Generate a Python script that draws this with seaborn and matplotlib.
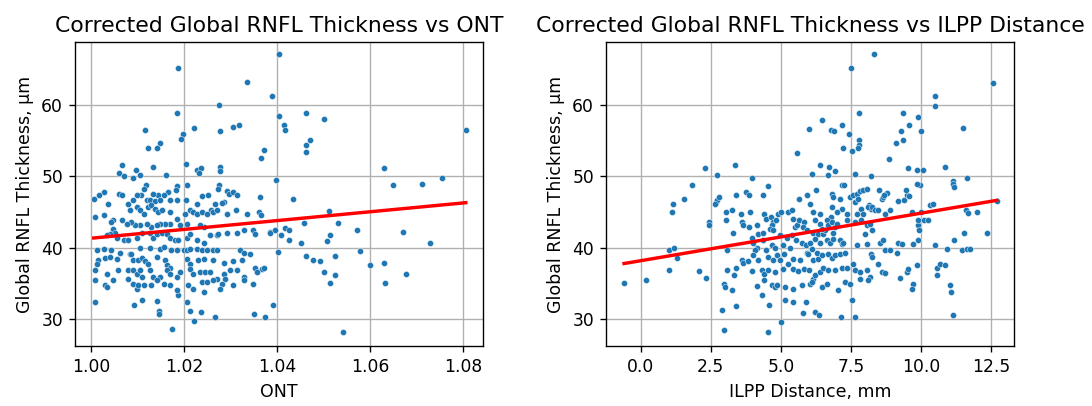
import matplotlib
matplotlib.use("Agg")
import matplotlib.pyplot as plt
import seaborn as sns
import numpy as np

# ---------------- data ----------------
ONT = [
    1.0188, 1.0335, 1.0389, 1.0404, 1.0275, 1.0184, 1.0117, 1.0221, 1.0278, 1.0306,
    1.0318, 1.0198, 1.0193, 1.0148, 1.0122, 1.0142, 1.0404, 1.0372, 1.0366, 1.0066,
    1.0060, 1.0071, 1.0097, 1.0105, 1.0090, 1.0133, 1.0161, 1.0205, 1.0227, 1.0236,
    1.0232, 1.0278, 1.0278, 1.0397, 1.0462, 1.0502, 1.0414, 1.0417, 1.0471, 1.0462,
    1.0462, 1.0806, 1.0630, 1.0754, 1.0434, 1.0649, 1.0712, 1.0511, 1.0457, 1.0531,
    1.0385, 1.0396, 1.0417, 1.0426, 1.0409, 1.0426, 1.0451, 1.0514, 1.0508, 1.0573,
    1.0672, 1.0730, 1.0403, 1.0462, 1.0477, 1.0493, 1.0525, 1.0578, 1.0601, 1.0630,
    1.0502, 1.0525, 1.0513, 1.0632, 1.0678, 1.0391, 1.0541, 1.0008, 1.0093, 1.0109,
    1.0142, 1.0146, 1.0146, 1.0175, 1.0212, 1.0221, 1.0237, 1.0266, 1.0351, 1.0374,
    1.0188, 1.0206, 1.0206, 1.0276, 1.0274, 1.0118, 1.0113, 1.0186, 1.0183, 1.0166,
    1.0156, 1.0145, 1.0134, 1.0108, 1.0100, 1.0061, 1.0066, 1.0027, 1.0018, 1.0006,
    1.0037, 1.0080, 1.0091, 1.0120, 1.0127, 1.0138, 1.0148, 1.0170, 1.0186, 1.0204,
    1.0238, 1.0251, 1.0292, 1.0297, 1.0306, 1.0313, 1.0363, 1.0286, 1.0267, 1.0281,
    1.0259, 1.0227, 1.0009, 1.0029, 1.0048, 1.0066, 1.0084, 1.0098, 1.0105, 1.0113,
    1.0123, 1.0130, 1.0138, 1.0145, 1.0152, 1.0170, 1.0184, 1.0202, 1.0213, 1.0220,
    1.0227, 1.0238, 1.0249, 1.0263, 1.0270, 1.0292, 1.0312, 1.0335, 1.0361, 1.0365,
    1.0328, 1.0348, 1.0353, 1.0385, 1.0270, 1.0242, 1.0234, 1.0206, 1.0191, 1.0170,
    1.0159, 1.0148, 1.0141, 1.0130, 1.0120, 1.0105, 1.0095, 1.0087, 1.0077, 1.0044,
    1.0047, 1.0052, 1.0041, 1.0034, 1.0055, 1.0070, 1.0080, 1.0098, 1.0109, 1.0127,
    1.0134, 1.0141, 1.0152, 1.0163, 1.0170, 1.0181, 1.0188, 1.0206, 1.0213, 1.0227,
    1.0242, 1.0256, 1.0274, 1.0292, 1.0313, 1.0012, 1.0027, 1.0044, 1.0062, 1.0084,
    1.0105, 1.0127, 1.0148, 1.0156, 1.0173, 1.0184, 1.0199, 1.0206, 1.0213, 1.0227,
    1.0238, 1.0249, 1.0263, 1.0270, 1.0320, 1.0328, 1.0342, 1.0016, 1.0030, 1.0041,
    1.0055, 1.0087, 1.0091, 1.0102, 1.0109, 1.0116, 1.0123, 1.0141, 1.0159, 1.0163,
    1.0170, 1.0206, 1.0213, 1.0231, 1.0242, 1.0263, 1.0285, 1.0306, 1.0324, 1.0353,
    1.0012, 1.0009, 1.0034, 1.0048, 1.0059, 1.0080, 1.0091, 1.0098, 1.0105, 1.0109,
    1.0127, 1.0134, 1.0148, 1.0163, 1.0170, 1.0184, 1.0191, 1.0213, 1.0220, 1.0234,
    1.0245, 1.0256, 1.0270, 1.0285, 1.0288, 1.0299, 1.0313, 1.0328, 1.0367, 1.0356,
    1.0371, 1.0009, 1.0030, 1.0034, 1.0080, 1.0091, 1.0098, 1.0102, 1.0113, 1.0130,
    1.0141, 1.0156, 1.0170, 1.0184, 1.0209, 1.0220, 1.0238, 1.0242, 1.0249, 1.0263,
    1.0281, 1.0277, 1.0306, 1.0328, 1.0349,
]
RNFL_VS_ONT = [
    65.2, 63.2, 61.3, 67.1, 60.0, 58.9, 56.4, 56.7, 56.3, 56.9,
    57.2, 55.9, 55.2, 54.6, 53.9, 53.9, 58.4, 53.6, 52.5, 51.5,
    50.4, 50.0, 50.9, 50.2, 49.8, 51.3, 50.2, 51.7, 50.8, 51.1,
    50.4, 51.3, 50.7, 49.4, 58.9, 58.0, 57.2, 56.5, 55.0, 54.3,
    53.4, 56.4, 51.2, 49.8, 46.8, 48.7, 48.9, 45.1, 43.5, 43.5,
    42.2, 42.4, 42.8, 42.4, 41.8, 41.1, 40.7, 41.8, 40.9, 42.5,
    42.2, 40.7, 39.4, 38.8, 38.3, 38.1, 38.8, 39.5, 37.5, 37.9,
    36.5, 36.1, 35.0, 35.0, 36.3, 32.0, 28.2, 32.4, 31.9, 32.7,
    32.5, 31.1, 30.7, 28.6, 31.1, 29.7, 30.9, 30.3, 30.7, 30.3,
    33.3, 32.3, 48.8, 48.7, 48.2, 48.7, 48.2, 48.6, 48.0, 47.8,
    47.4, 47.3, 47.5, 47.4, 47.3, 47.5, 47.3, 47.8, 47.4, 46.8,
    46.1, 46.1, 46.6, 46.7, 46.7, 46.5, 46.7, 46.6, 46.6, 46.7,
    47.2, 47.3, 47.9, 47.5, 47.8, 47.4, 47.1, 46.4, 46.1, 46.2,
    45.2, 46.1, 44.3, 44.6, 43.8, 43.8, 45.2, 45.7, 45.2, 44.7,
    45.7, 45.9, 45.4, 45.0, 45.2, 45.0, 44.0, 44.7, 45.2, 45.0,
    44.7, 45.0, 44.7, 45.0, 45.2, 44.7, 45.2, 44.7, 45.0, 44.5,
    42.4, 42.4, 41.9, 42.1, 41.7, 42.9, 43.1, 43.3, 43.1, 43.3,
    43.3, 43.3, 43.1, 42.9, 43.3, 43.1, 43.1, 43.6, 43.3, 43.6,
    42.6, 42.1, 41.9, 41.7, 41.4, 41.0, 41.0, 41.4, 42.1, 42.1,
    41.4, 41.9, 42.1, 41.9, 41.4, 41.0, 41.1, 41.4, 41.9, 41.0,
    40.7, 41.7, 41.9, 42.1, 42.1, 39.6, 39.8, 39.6, 39.3, 39.1,
    40.0, 40.0, 39.8, 40.1, 39.6, 39.7, 39.7, 39.6, 39.8, 39.8,
    39.6, 39.7, 39.6, 39.6, 39.7, 39.3, 39.1, 38.2, 38.6, 38.7,
    38.4, 39.1, 38.2, 38.2, 38.6, 38.1, 37.7, 38.7, 38.2, 37.6,
    37.2, 38.4, 37.7, 38.2, 38.4, 38.2, 37.9, 38.1, 38.3, 37.2,
    37.7, 36.8, 36.3, 35.4, 36.8, 36.8, 36.8, 36.3, 36.8, 35.8,
    36.8, 35.8, 35.8, 36.8, 36.3, 35.8, 36.5, 37.0, 36.3, 36.5,
    36.5, 36.5, 35.6, 36.3, 35.6, 36.8, 36.8, 35.8, 37.0, 36.5,
    37.2, 35.4, 34.7, 34.4, 35.6, 34.9, 34.2, 34.7, 34.7, 34.7,
    35.4, 34.9, 34.7, 34.0, 34.7, 34.2, 35.1, 33.7, 35.1, 35.4,
    34.9, 34.2, 34.7, 35.4, 34.9,
]

ILPP = [
    2.30, 2.71, 3.37, 3.98, 5.58, 6.00, 8.31, 7.50, 12.58, 10.51,
    10.51, 7.79, 9.35, 9.90, 6.47, 7.18, 6.79, 6.90, 7.42, 9.58,
    9.30, 10.00, 11.50, 9.35, 9.11, 7.79, 7.79, 7.74, 7.23, 7.55,
    8.87, 6.39, 6.72, 6.94, 6.10, 6.67, 7.66, 8.22, 9.53, 9.86,
    10.07, 10.85, 11.15, 11.65, 1.82, 1.55, 1.17, 1.11, 2.69, 2.73,
    2.81, 2.65, 2.43, 2.43, 3.42, 3.75, 3.88, 4.35, 4.55, 3.04,
    3.25, 3.04, 3.28, 3.57, 3.60, 3.66, 3.90, 3.88, 4.14, 4.20,
    4.40, 4.49, 4.64, 4.73, 4.67, 4.61, 4.83, 4.91, 5.00, 5.27,
    5.39, 5.45, 5.51, 5.57, 5.66, 5.65, 5.92, 6.04, 5.83, 5.78,
    5.92, 4.35, 4.73, 4.97, 5.21, 5.39, 3.96, 4.02, 4.14, 4.08,
    4.38, 4.49, 4.67, 4.79, 5.09, 5.33, 5.56, 5.74, 5.90, 3.07,
    3.60, 3.66, 3.84, 4.02, 4.20, 4.55, 4.73, 4.85, 4.97, 5.11,
    5.27, 5.45, 5.68, 5.92, 5.98, 3.09, 3.42, 3.33, 3.96, 4.32,
    4.40, 4.55, 4.79, 5.07, 5.45, 5.62, 5.83, 6.02, 2.97, 3.01,
    3.25, 4.14, 4.40, 4.67, 4.79, 4.85, 5.15, 5.42, 5.74, 4.32,
    1.02, 1.19, 1.31, 1.02, 0.21, -0.59, 2.09, 2.33, 2.89, 2.99,
    3.41, 4.59, 4.54, 5.16, 5.43, 5.89, 5.01, 5.80, 6.22, 6.37,
    7.16, 7.64, 11.16, 7.54, 7.17, 7.25, 9.96, 9.87, 11.15, 11.18,
    6.25, 6.81, 6.85, 7.11, 7.47, 7.59, 7.71, 7.83, 7.95, 8.06,
    7.65, 7.76, 8.51, 8.60, 8.66, 8.80, 8.68, 9.19, 9.40, 9.49,
    9.47, 9.56, 10.32, 10.44, 11.60, 11.69, 11.99, 12.70, 8.16, 8.21,
    8.12, 8.24, 8.36, 7.88, 7.94, 7.71, 7.35, 7.17, 7.00, 6.81,
    6.78, 8.48, 8.72, 8.89, 9.67, 10.00, 6.40, 6.16, 6.22, 6.40,
    6.64, 6.70, 6.81, 6.93, 6.99, 7.35, 7.65, 7.88, 8.06, 8.24,
    8.18, 8.00, 9.91, 9.94, 10.11, 10.26, 9.91, 11.54, 12.34, 6.16,
    6.34, 6.52, 6.58, 6.87, 6.46, 6.04, 6.22, 6.40, 6.64, 6.75,
    6.87, 7.11, 7.17, 7.23, 7.71, 8.06, 8.54, 8.66, 9.19, 9.31,
    9.73, 9.91, 10.50, 10.92, 11.18, 11.45, 11.63, 11.75, 6.10, 6.28,
    6.16, 6.34, 6.46, 6.70, 6.81, 6.93, 7.11, 7.29, 8.72, 8.89,
    9.13, 8.21, 8.24, 6.16, 6.22, 6.40, 6.52, 6.70, 6.93, 7.17,
    7.35, 7.59, 7.65, 7.83, 8.06, 8.18, 8.48, 8.60, 8.72, 9.25,
    9.49, 9.55, 9.85, 10.56, 10.68, 10.86, 10.56, 6.04, 6.10, 6.46,
    6.64, 7.05, 7.29, 7.47, 7.83, 8.12, 9.73, 9.67, 11.03, 11.09,
]
RNFL_VS_ILPP = [
    51.1, 50.2, 51.5, 49.8, 53.3, 56.6, 67.1, 65.2, 63.1, 61.3,
    59.9, 58.8, 58.8, 58.3, 57.9, 57.2, 56.4, 56.3, 55.9, 57.2,
    56.3, 56.3, 56.8, 55.1, 54.6, 55.0, 54.3, 53.9, 53.9, 53.5,
    52.4, 51.6, 51.3, 50.7, 50.3, 50.1, 50.3, 50.0, 51.1, 50.9,
    50.9, 51.3, 49.3, 49.7, 48.8, 46.8, 46.1, 45.0, 46.4, 46.7,
    47.1, 46.1, 43.6, 43.2, 47.4, 47.8, 47.4, 47.4, 48.6, 45.0,
    45.3, 43.9, 42.1, 44.7, 43.6, 43.1, 45.0, 42.9, 43.1, 41.9,
    44.7, 44.0, 44.3, 43.6, 43.1, 42.6, 43.8, 44.7, 45.0, 45.0,
    45.2, 44.0, 42.9, 43.1, 43.8, 46.8, 47.3, 46.1, 43.6, 42.9,
    42.4, 42.1, 42.4, 41.7, 41.4, 41.7, 41.4, 40.7, 40.0, 39.6,
    41.0, 39.6, 40.3, 40.0, 40.3, 40.0, 41.0, 40.7, 40.3, 39.6,
    38.3, 37.9, 38.1, 38.9, 38.3, 38.7, 38.2, 38.9, 38.2, 39.1,
    37.7, 38.4, 38.2, 39.3, 39.1, 36.9, 37.2, 36.1, 36.7, 36.9,
    36.3, 36.8, 36.5, 37.0, 37.0, 36.7, 37.0, 36.8, 34.9, 34.5,
    34.1, 34.6, 35.4, 34.7, 34.5, 34.7, 34.4, 34.2, 34.7, 33.3,
    39.7, 40.0, 38.6, 36.9, 35.5, 35.0, 36.7, 35.7, 31.2, 28.5,
    31.8, 32.0, 28.1, 32.6, 32.3, 32.3, 29.6, 30.8, 31.0, 30.6,
    30.2, 30.2, 30.6, 32.6, 48.8, 48.7, 48.8, 48.9, 48.9, 48.5,
    48.1, 47.5, 47.1, 46.8, 47.1, 47.3, 47.5, 47.9, 48.0, 48.2,
    46.4, 46.8, 48.1, 46.8, 47.1, 47.7, 47.3, 46.5, 46.7, 47.3,
    48.0, 47.2, 45.9, 46.1, 45.2, 44.8, 45.0, 46.5, 45.9, 45.4,
    45.7, 45.7, 45.2, 45.4, 44.7, 44.7, 44.7, 45.4, 45.0, 45.7,
    44.3, 45.2, 44.7, 45.2, 45.0, 45.0, 44.7, 45.0, 43.8, 43.3,
    43.8, 43.1, 43.6, 42.9, 43.3, 43.8, 43.6, 43.8, 43.1, 42.4,
    43.3, 41.9, 43.1, 42.4, 43.8, 43.8, 43.8, 42.1, 42.1, 42.1,
    41.9, 41.9, 42.4, 42.1, 42.6, 40.7, 41.2, 40.7, 41.0, 40.7,
    41.2, 41.0, 40.5, 40.7, 40.3, 40.5, 40.7, 41.0, 40.7, 40.5,
    40.5, 41.0, 40.3, 39.8, 41.1, 39.7, 39.8, 39.8, 39.8, 39.3,
    38.2, 38.4, 38.9, 39.1, 38.6, 38.9, 39.1, 39.3, 39.7, 39.6,
    39.3, 39.1, 38.7, 35.6, 36.1, 36.5, 37.2, 36.9, 36.9, 37.2,
    37.2, 37.7, 36.8, 36.5, 36.8, 35.9, 37.7, 36.5, 36.4, 35.7,
    36.5, 37.0, 37.5, 37.2, 37.7, 37.5, 36.1, 34.9, 35.1, 34.4,
    34.9, 34.0, 35.1, 34.9, 35.6, 35.5, 34.9, 34.2, 34.7, 33.7,
]

# fitted regression lines: [value at x0, slope]
ONT_FIT = [41.3, 61.8]      # value at ONT = 1.00, slope per unit ONT
ONT_FIT_X0 = 1.00
ILPP_FIT = [38.15, 0.666]   # value at ILPP = 0.0, slope per mm

TITLES = ["Corrected Global RNFL Thickness vs ONT",
          "Corrected Global RNFL Thickness vs ILPP Distance"]
XLABELS = ["ONT", "ILPP Distance, mm"]
YLABEL = "Global RNFL Thickness, µm"

# ---------------- figure ----------------
plt.rcParams.update(plt.rcParamsDefault)
plt.rcParams["font.family"] = ["DejaVu Sans"]
DPI = 123
fig = plt.figure(figsize=(1092 / DPI, 406 / DPI), dpi=DPI)
ax1 = fig.add_axes([75 / 1092, 1 - 346 / 406, 408 / 1092, 304 / 406])
ax2 = fig.add_axes([606 / 1092, 1 - 346 / 406, 408 / 1092, 304 / 406])

blue = "#1f77b4"

def panel(ax, x, y, fit, x0, title, xlabel, xlim):
    x = np.asarray(x)
    y = np.asarray(y)
    sns.scatterplot(x=x, y=y, ax=ax, s=13, color=blue, edgecolor="white",
                    linewidth=0.25, zorder=3)
    xs = np.array([x.min(), x.max()])
    ys = fit[0] + fit[1] * (xs - x0)
    ax.plot(xs, ys, color="red", lw=2.0, zorder=4)
    ax.set_title(title, fontsize=12.8)
    ax.set_xlabel(xlabel, fontsize=10.2)
    ax.set_ylabel(YLABEL, fontsize=10.2)
    ax.grid(True, color="#b0b0b0", lw=0.8)
    ax.set_axisbelow(True)
    ax.set_xlim(*xlim)
    ax.set_ylim(26.2, 68.8)
    ax.set_yticks([30, 40, 50, 60])
    ax.tick_params(labelsize=10, colors="black")

panel(ax1, ONT, RNFL_VS_ONT, ONT_FIT, ONT_FIT_X0, TITLES[0], XLABELS[0],
      (0.99656, 1.0843))
ax1.set_xticks([1.00, 1.02, 1.04, 1.06, 1.08])
ax1.set_xticklabels(["1.00", "1.02", "1.04", "1.06", "1.08"])
panel(ax2, ILPP, RNFL_VS_ILPP, ILPP_FIT, 0.0, TITLES[1], XLABELS[1],
      (-1.234, 13.32))
ax2.set_xticks([0.0, 2.5, 5.0, 7.5, 10.0, 12.5])
ax2.set_xticklabels(["0.0", "2.5", "5.0", "7.5", "10.0", "12.5"])

fig.savefig("out.png", dpi=DPI)
